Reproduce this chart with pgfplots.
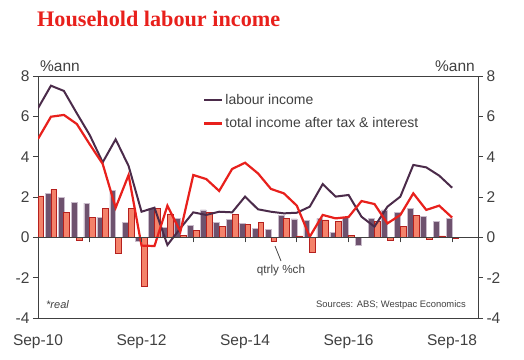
\documentclass[border=0pt]{standalone}
\usepackage{pgfplots}
\pgfplotsset{compat=1.18}
\usepackage{pgfplotstable}
\usepackage{fontspec}
\setmainfont{Liberation Sans}
\newfontfamily\titlefont{Liberation Serif}

\definecolor{labour}{HTML}{4B2B4A}
\definecolor{totinc}{HTML}{E8201C}
\definecolor{pbar}{HTML}{6E526E}
\definecolor{pbaredge}{HTML}{C9BCCB}
\definecolor{obar}{HTML}{F4826A}
\definecolor{obaredge}{HTML}{B5201E}
\definecolor{txt}{HTML}{404040}

\pgfplotstableread{
i  lab   tot   pb    ob
0  6.40  4.88  nan   2.05
1  7.52  5.98  2.18  2.38
2  7.26  6.07  1.97  1.24
3  6.15  5.62  1.74  -0.15
4  5.07  4.61  1.70  0.99
5  3.72  3.64  0.99  1.44
6  4.86  1.47  2.31  -0.79
7  3.54  3.09  0.74  1.44
8  1.27  -0.41 -0.20 -2.41
9  1.47  -0.43 1.44  1.44
10 -0.38 1.57  0.48  1.16
11 0.45  0.28  0.94  0.10
12 1.24  3.09  0.61  0.35
13 1.11  2.89  1.36  1.24
14 1.27  2.30  0.74  0.55
15 1.24  3.39  0.88  1.14
16 2.02  3.70  0.71  0.64
17 1.39  3.17  0.46  0.76
18 1.27  2.40  0.38  -0.20
19 1.19  2.18  1.07  0.94
20 1.22  1.57  0.91  0.07
21 1.52  0.03  0.84  -0.74
22 2.64  1.11  0.94  0.86
23 2.02  0.94  0.26  0.81
24 2.10  1.01  0.98  0.10
25 1.02  1.80  -0.38 0.00
26 0.53  1.65  0.94  0.78
27 1.52  0.69  1.36  -0.15
28 2.02  1.11  1.22  0.55
29 3.59  2.18  1.44  1.09
30 3.47  1.36  1.02  -0.10
31 3.06  1.57  0.78  0.07
32 2.46  0.98  0.94  -0.07
}\data

\begin{document}
\begin{tikzpicture}[x=1pt,y=1pt]
\useasboundingbox (0,0) rectangle (524,359);
\begin{axis}[
  at={(38pt,41pt)}, anchor=south west,
  scale only axis, width=440pt, height=242pt,
  xmin=0, xmax=34, ymin=-4, ymax=8,
  ytick={-4,-2,...,8}, ytick pos=left,
  tick align=outside, major tick length=5pt,
  xtick={0,8,16,24,32},
  xticklabels={Sep-10,Sep-12,Sep-14,Sep-16,Sep-18},
  x tick style={draw=none},
  xticklabel style={yshift=-8pt},
  ticklabel style={font=\fontsize{15.5}{18}\selectfont, text=txt},
  /pgf/number format/assume math mode=true,
  axis line style={txt, line width=0.8pt},
  tick style={txt, line width=0.8pt},
  legend style={at={(0.375,0.935)}, anchor=north west, draw=none, fill=none,
    font=\fontsize{14}{16}\selectfont, text=txt, row sep=8pt, inner sep=0pt},
  legend cell align=left,
  legend image code/.code={\draw[#1] (0pt,0pt) -- (18pt,0pt);},
]
\addplot[ybar, bar width=5.8pt, bar shift=-2.9pt, fill=pbar, draw=pbaredge, line width=0.6pt, forget plot] table[x=i,y=pb]{\data};
\addplot[ybar, bar width=5.8pt, bar shift=2.9pt, fill=obar, draw=obaredge, line width=0.8pt, forget plot] table[x=i,y=ob]{\data};
\addplot[labour, line width=2pt, mark=none] table[x=i,y=lab]{\data};
\addlegendentry{labour income}
\addplot[totinc, line width=2.2pt, mark=none] table[x=i,y=tot]{\data};
\addlegendentry{total income after tax \& interest}
\end{axis}
\begin{axis}[
  at={(38pt,41pt)}, anchor=south west,
  scale only axis, width=440pt, height=242pt,
  xmin=0, xmax=34, ymin=-4, ymax=8,
  axis x line=middle, axis y line=right,
  axis line style={-, txt, line width=0.8pt},
  tick style={txt, line width=0.8pt},
  xtick={0,4,...,32}, xticklabels={,,,,,,,,},
  ytick={-4,-2,...,8},
  tick align=outside, major tick length=5pt,
  ticklabel style={font=\fontsize{15.5}{18}\selectfont, text=txt},
  /pgf/number format/assume math mode=true,
]
\end{axis}
\node[anchor=base west, inner sep=0, text=totinc] at (37,332) {\titlefont\bfseries\fontsize{22.2}{25}\selectfont Household labour income};
\node[anchor=base west, inner sep=0, text=txt] at (40,287) {\fontsize{15.5}{18}\selectfont \%ann};
\node[anchor=base east, inner sep=0, text=txt] at (475,287) {\fontsize{15.5}{18}\selectfont \%ann};
\node[anchor=base west, inner sep=0, text=txt] at (46,51) {\fontsize{11}{13}\selectfont\itshape *real};
\node[anchor=base east, inner sep=0, text=txt] at (466,52) {\fontsize{9.4}{11}\selectfont Sources: ABS; Westpac Economics};
\node[anchor=base, inner sep=0, text=txt] at (281,86) {\fontsize{11.7}{14}\selectfont qtrly \%ch};
\draw[txt, line width=0.8pt] (275,113) -- (281,98);
\end{tikzpicture}
\end{document}
